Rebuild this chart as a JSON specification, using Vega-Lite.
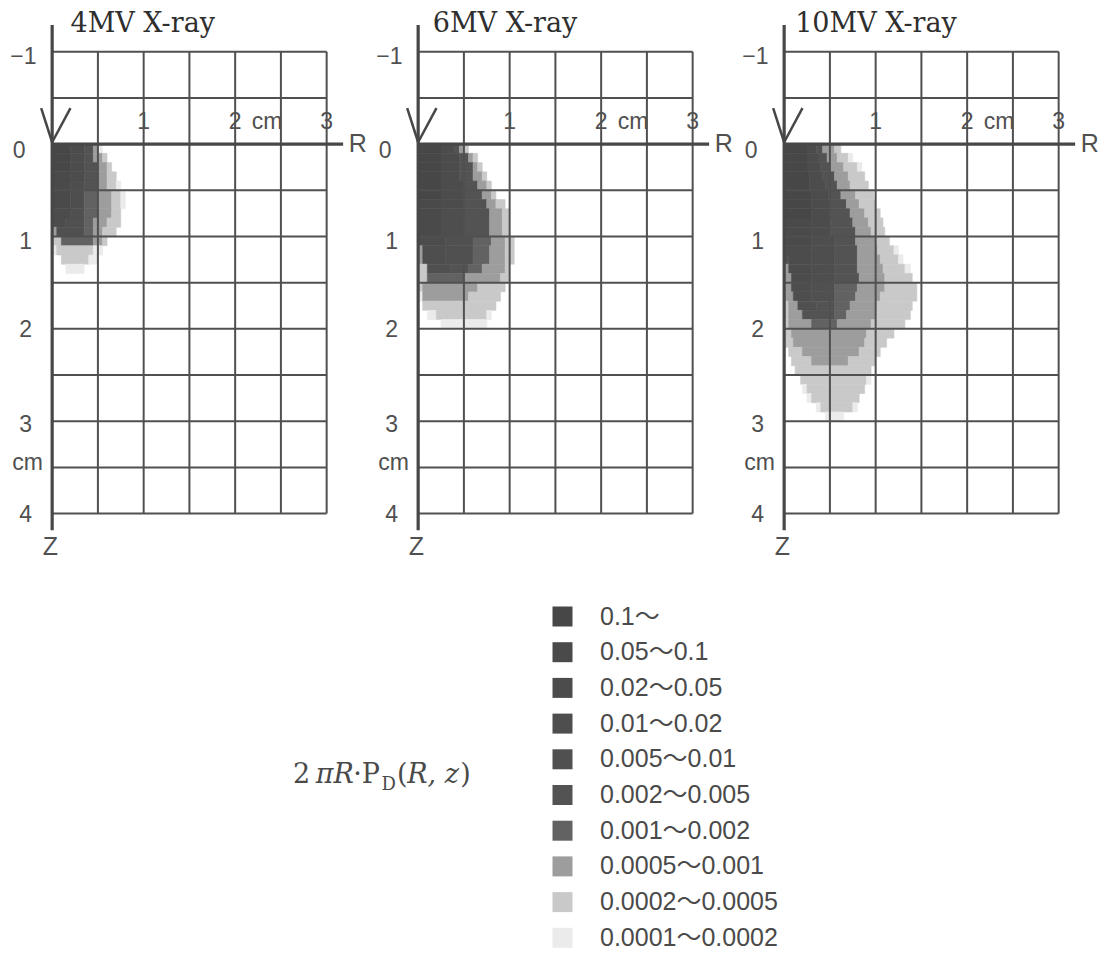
{
  "$schema": "https://vega.github.io/schema/vega-lite/v6.json",
  "background": "white",
  "padding": 0,
  "spacing": 0,
  "bounds": "flush",
  "config": {"view": {"stroke": null}},
  "resolve": {"scale": {"color": "independent", "stroke": "independent"}, "legend": {"color": "independent"}},
  "datasets": {
    "grid": [
      {"x": 0.5, "x2": 0.5, "y": -1, "y2": 4}, {"x": 1, "x2": 1, "y": -1, "y2": 4}, {"x": 1.5, "x2": 1.5, "y": -1, "y2": 4},
      {"x": 2, "x2": 2, "y": -1, "y2": 4}, {"x": 2.5, "x2": 2.5, "y": -1, "y2": 4}, {"x": 3, "x2": 3, "y": -1, "y2": 4},
      {"x": 0, "x2": 3, "y": -1, "y2": -1}, {"x": 0, "x2": 3, "y": -0.5, "y2": -0.5}, {"x": 0, "x2": 3, "y": 0.5, "y2": 0.5},
      {"x": 0, "x2": 3, "y": 1, "y2": 1}, {"x": 0, "x2": 3, "y": 1.5, "y2": 1.5}, {"x": 0, "x2": 3, "y": 2, "y2": 2},
      {"x": 0, "x2": 3, "y": 2.5, "y2": 2.5}, {"x": 0, "x2": 3, "y": 3, "y2": 3}, {"x": 0, "x2": 3, "y": 3.5, "y2": 3.5},
      {"x": 0, "x2": 3, "y": 4, "y2": 4}
    ],
    "axes": [
      {"x": 0, "x2": 0, "y": -1.29, "y2": 4.18},
      {"x": 0, "x2": 3.18, "y": 0, "y2": 0}
    ],
    "arrow": [
      {"x": -0.12, "x2": 0, "y": -0.39, "y2": -0.02},
      {"x": 0.2, "x2": 0, "y": -0.39, "y2": -0.02}
    ],
    "rlab": [
      {"x": 1, "y": -0.16, "t": "1"}, {"x": 2, "y": -0.16, "t": "2"},
      {"x": 2.35, "y": -0.16, "t": "cm"}, {"x": 3, "y": -0.16, "t": "3"}
    ],
    "zlab": [
      {"x": -0.17, "y": -0.94, "t": "−1"}, {"x": -0.29, "y": 0.07, "t": "0"}, {"x": -0.22, "y": 1.06, "t": "1"},
      {"x": -0.22, "y": 2.01, "t": "2"}, {"x": -0.22, "y": 3.04, "t": "3"}, {"x": -0.1, "y": 3.45, "t": "cm"},
      {"x": -0.22, "y": 4.02, "t": "4"}
    ],
    "names": [
      {"x": 3.34, "y": 0, "t": "R"}, {"x": -0.02, "y": 4.36, "t": "Z"}
    ],
    "h4": [
      {"z":0,"z2":0.1,"r":0,"r2":0.2,"v":1},{"z":0,"z2":0.1,"r":0.2,"r2":0.35,"v":3},{"z":0,"z2":0.1,"r":0.35,"r2":0.45,"v":6},{"z":0,"z2":0.1,"r":0.45,"r2":0.5,"v":8},{"z":0,"z2":0.1,"r":0.5,"r2":0.55,"v":10},
      {"z":0.1,"z2":0.2,"r":0,"r2":0.2,"v":1},{"z":0.1,"z2":0.2,"r":0.2,"r2":0.35,"v":3},{"z":0.1,"z2":0.2,"r":0.35,"r2":0.45,"v":6},{"z":0.1,"z2":0.2,"r":0.45,"r2":0.55,"v":8},{"z":0.1,"z2":0.2,"r":0.55,"r2":0.6,"v":9},
      {"z":0.2,"z2":0.3,"r":0,"r2":0.2,"v":1},{"z":0.2,"z2":0.3,"r":0.2,"r2":0.35,"v":3},{"z":0.2,"z2":0.3,"r":0.35,"r2":0.5,"v":6},{"z":0.2,"z2":0.3,"r":0.5,"r2":0.6,"v":8},{"z":0.2,"z2":0.3,"r":0.6,"r2":0.65,"v":9},
      {"z":0.3,"z2":0.4,"r":0,"r2":0.2,"v":2},{"z":0.3,"z2":0.4,"r":0.2,"r2":0.35,"v":3},{"z":0.3,"z2":0.4,"r":0.35,"r2":0.5,"v":6},{"z":0.3,"z2":0.4,"r":0.5,"r2":0.6,"v":8},{"z":0.3,"z2":0.4,"r":0.6,"r2":0.7,"v":9},
      {"z":0.4,"z2":0.5,"r":0,"r2":0.2,"v":2},{"z":0.4,"z2":0.5,"r":0.2,"r2":0.35,"v":4},{"z":0.4,"z2":0.5,"r":0.35,"r2":0.5,"v":6},{"z":0.4,"z2":0.5,"r":0.5,"r2":0.6,"v":8},{"z":0.4,"z2":0.5,"r":0.6,"r2":0.7,"v":9},{"z":0.4,"z2":0.5,"r":0.7,"r2":0.75,"v":10},
      {"z":0.5,"z2":0.7,"r":0,"r2":0.2,"v":2},{"z":0.5,"z2":0.7,"r":0.2,"r2":0.35,"v":4},{"z":0.5,"z2":0.7,"r":0.35,"r2":0.5,"v":7},{"z":0.5,"z2":0.7,"r":0.5,"r2":0.65,"v":8},{"z":0.5,"z2":0.7,"r":0.65,"r2":0.75,"v":9},{"z":0.5,"z2":0.7,"r":0.75,"r2":0.8,"v":10},
      {"z":0.7,"z2":0.8,"r":0,"r2":0.2,"v":3},{"z":0.7,"z2":0.8,"r":0.2,"r2":0.35,"v":5},{"z":0.7,"z2":0.8,"r":0.35,"r2":0.5,"v":7},{"z":0.7,"z2":0.8,"r":0.5,"r2":0.65,"v":8},{"z":0.7,"z2":0.8,"r":0.65,"r2":0.75,"v":9},
      {"z":0.8,"z2":0.9,"r":0,"r2":0.15,"v":3},{"z":0.8,"z2":0.9,"r":0.15,"r2":0.35,"v":5},{"z":0.8,"z2":0.9,"r":0.35,"r2":0.45,"v":7},{"z":0.8,"z2":0.9,"r":0.45,"r2":0.6,"v":8},{"z":0.8,"z2":0.9,"r":0.6,"r2":0.75,"v":9},
      {"z":0.9,"z2":1,"r":0,"r2":0.05,"v":8},{"z":0.9,"z2":1,"r":0.05,"r2":0.35,"v":5},{"z":0.9,"z2":1,"r":0.35,"r2":0.45,"v":7},{"z":0.9,"z2":1,"r":0.45,"r2":0.55,"v":8},{"z":0.9,"z2":1,"r":0.55,"r2":0.7,"v":9},
      {"z":1,"z2":1.1,"r":0,"r2":0.1,"v":9},{"z":1,"z2":1.1,"r":0.1,"r2":0.45,"v":7},{"z":1,"z2":1.1,"r":0.45,"r2":0.55,"v":8},{"z":1,"z2":1.1,"r":0.55,"r2":0.6,"v":9},
      {"z":1.1,"z2":1.2,"r":0,"r2":0.05,"v":10},{"z":1.1,"z2":1.2,"r":0.05,"r2":0.45,"v":9},{"z":1.1,"z2":1.2,"r":0.45,"r2":0.55,"v":10},
      {"z":1.2,"z2":1.3,"r":0.1,"r2":0.4,"v":9},{"z":1.2,"z2":1.3,"r":0.4,"r2":0.5,"v":10},
      {"z":1.3,"z2":1.4,"r":0.15,"r2":0.35,"v":10}
    ],
    "h6": [
      {"z":0,"z2":0.1,"r":0,"r2":0.25,"v":1},{"z":0,"z2":0.1,"r":0.25,"r2":0.4,"v":3},{"z":0,"z2":0.1,"r":0.4,"r2":0.45,"v":6},{"z":0,"z2":0.1,"r":0.45,"r2":0.5,"v":8},{"z":0,"z2":0.1,"r":0.5,"r2":0.55,"v":9},
      {"z":0.1,"z2":0.2,"r":0,"r2":0.25,"v":1},{"z":0.1,"z2":0.2,"r":0.25,"r2":0.45,"v":3},{"z":0.1,"z2":0.2,"r":0.45,"r2":0.55,"v":6},{"z":0.1,"z2":0.2,"r":0.55,"r2":0.6,"v":8},{"z":0.1,"z2":0.2,"r":0.6,"r2":0.65,"v":9},
      {"z":0.2,"z2":0.3,"r":0,"r2":0.25,"v":1},{"z":0.2,"z2":0.3,"r":0.25,"r2":0.45,"v":3},{"z":0.2,"z2":0.3,"r":0.45,"r2":0.6,"v":6},{"z":0.2,"z2":0.3,"r":0.6,"r2":0.65,"v":8},{"z":0.2,"z2":0.3,"r":0.65,"r2":0.7,"v":9},
      {"z":0.3,"z2":0.4,"r":0,"r2":0.25,"v":1},{"z":0.3,"z2":0.4,"r":0.25,"r2":0.45,"v":3},{"z":0.3,"z2":0.4,"r":0.45,"r2":0.6,"v":6},{"z":0.3,"z2":0.4,"r":0.6,"r2":0.7,"v":8},{"z":0.3,"z2":0.4,"r":0.7,"r2":0.75,"v":9},
      {"z":0.4,"z2":0.5,"r":0,"r2":0.25,"v":1},{"z":0.4,"z2":0.5,"r":0.25,"r2":0.5,"v":3},{"z":0.4,"z2":0.5,"r":0.5,"r2":0.65,"v":6},{"z":0.4,"z2":0.5,"r":0.65,"r2":0.75,"v":8},{"z":0.4,"z2":0.5,"r":0.75,"r2":0.8,"v":9},
      {"z":0.5,"z2":0.6,"r":0,"r2":0.25,"v":1},{"z":0.5,"z2":0.6,"r":0.25,"r2":0.5,"v":3},{"z":0.5,"z2":0.6,"r":0.5,"r2":0.7,"v":6},{"z":0.5,"z2":0.6,"r":0.7,"r2":0.8,"v":8},{"z":0.5,"z2":0.6,"r":0.8,"r2":0.85,"v":9},
      {"z":0.6,"z2":0.7,"r":0,"r2":0.25,"v":2},{"z":0.6,"z2":0.7,"r":0.25,"r2":0.5,"v":3},{"z":0.6,"z2":0.7,"r":0.5,"r2":0.75,"v":6},{"z":0.6,"z2":0.7,"r":0.75,"r2":0.85,"v":8},{"z":0.6,"z2":0.7,"r":0.85,"r2":0.95,"v":9},
      {"z":0.7,"z2":1,"r":0,"r2":0.25,"v":2},{"z":0.7,"z2":1,"r":0.25,"r2":0.5,"v":4},{"z":0.7,"z2":1,"r":0.5,"r2":0.78,"v":6},{"z":0.7,"z2":1,"r":0.78,"r2":0.92,"v":8},{"z":0.7,"z2":1,"r":0.92,"r2":1,"v":9},
      {"z":1,"z2":1.1,"r":0,"r2":0.3,"v":3},{"z":1,"z2":1.1,"r":0.3,"r2":0.6,"v":5},{"z":1,"z2":1.1,"r":0.6,"r2":0.8,"v":7},{"z":1,"z2":1.1,"r":0.8,"r2":0.95,"v":8},{"z":1,"z2":1.1,"r":0.95,"r2":1.05,"v":9},
      {"z":1.1,"z2":1.3,"r":0,"r2":0.05,"v":8},{"z":1.1,"z2":1.3,"r":0.05,"r2":0.3,"v":4},{"z":1.1,"z2":1.3,"r":0.3,"r2":0.6,"v":5},{"z":1.1,"z2":1.3,"r":0.6,"r2":0.78,"v":7},{"z":1.1,"z2":1.3,"r":0.78,"r2":0.95,"v":8},{"z":1.1,"z2":1.3,"r":0.95,"r2":1.05,"v":9},
      {"z":1.3,"z2":1.4,"r":0,"r2":0.1,"v":9},{"z":1.3,"z2":1.4,"r":0.1,"r2":0.35,"v":5},{"z":1.3,"z2":1.4,"r":0.35,"r2":0.55,"v":6},{"z":1.3,"z2":1.4,"r":0.55,"r2":0.7,"v":7},{"z":1.3,"z2":1.4,"r":0.7,"r2":0.95,"v":8},{"z":1.3,"z2":1.4,"r":0.95,"r2":1,"v":9},
      {"z":1.4,"z2":1.5,"r":0,"r2":0.1,"v":9},{"z":1.4,"z2":1.5,"r":0.1,"r2":0.5,"v":7},{"z":1.4,"z2":1.5,"r":0.5,"r2":0.9,"v":8},{"z":1.4,"z2":1.5,"r":0.9,"r2":1,"v":9},
      {"z":1.5,"z2":1.6,"r":0,"r2":0.05,"v":9},{"z":1.5,"z2":1.6,"r":0.05,"r2":0.65,"v":8},{"z":1.5,"z2":1.6,"r":0.65,"r2":0.95,"v":9},
      {"z":1.6,"z2":1.7,"r":0,"r2":0.05,"v":10},{"z":1.6,"z2":1.7,"r":0.05,"r2":0.55,"v":8},{"z":1.6,"z2":1.7,"r":0.55,"r2":0.9,"v":9},
      {"z":1.7,"z2":1.8,"r":0.05,"r2":0.85,"v":9},
      {"z":1.8,"z2":1.9,"r":0.1,"r2":0.2,"v":10},{"z":1.8,"z2":1.9,"r":0.2,"r2":0.75,"v":9},{"z":1.8,"z2":1.9,"r":0.75,"r2":0.8,"v":10},
      {"z":1.9,"z2":2,"r":0.25,"r2":0.75,"v":10}
    ],
    "h10": [
      {"z":0,"z2":0.1,"r":0,"r2":0.25,"v":1},{"z":0,"z2":0.1,"r":0.25,"r2":0.35,"v":3},{"z":0,"z2":0.1,"r":0.35,"r2":0.42,"v":6},{"z":0,"z2":0.1,"r":0.42,"r2":0.55,"v":8},{"z":0,"z2":0.1,"r":0.55,"r2":0.62,"v":9},
      {"z":0.1,"z2":0.2,"r":0,"r2":0.25,"v":1},{"z":0.1,"z2":0.2,"r":0.25,"r2":0.38,"v":3},{"z":0.1,"z2":0.2,"r":0.38,"r2":0.47,"v":6},{"z":0.1,"z2":0.2,"r":0.47,"r2":0.58,"v":8},{"z":0.1,"z2":0.2,"r":0.58,"r2":0.7,"v":9},{"z":0.1,"z2":0.2,"r":0.7,"r2":0.75,"v":10},
      {"z":0.2,"z2":0.3,"r":0,"r2":0.25,"v":1},{"z":0.2,"z2":0.3,"r":0.25,"r2":0.4,"v":3},{"z":0.2,"z2":0.3,"r":0.4,"r2":0.5,"v":6},{"z":0.2,"z2":0.3,"r":0.5,"r2":0.65,"v":8},{"z":0.2,"z2":0.3,"r":0.65,"r2":0.8,"v":9},{"z":0.2,"z2":0.3,"r":0.8,"r2":0.85,"v":10},
      {"z":0.3,"z2":0.4,"r":0,"r2":0.28,"v":1},{"z":0.3,"z2":0.4,"r":0.28,"r2":0.42,"v":3},{"z":0.3,"z2":0.4,"r":0.42,"r2":0.55,"v":6},{"z":0.3,"z2":0.4,"r":0.55,"r2":0.7,"v":8},{"z":0.3,"z2":0.4,"r":0.7,"r2":0.88,"v":9},
      {"z":0.4,"z2":0.5,"r":0,"r2":0.28,"v":1},{"z":0.4,"z2":0.5,"r":0.28,"r2":0.45,"v":3},{"z":0.4,"z2":0.5,"r":0.45,"r2":0.58,"v":6},{"z":0.4,"z2":0.5,"r":0.58,"r2":0.72,"v":8},{"z":0.4,"z2":0.5,"r":0.72,"r2":0.92,"v":9},
      {"z":0.5,"z2":0.6,"r":0,"r2":0.3,"v":1},{"z":0.5,"z2":0.6,"r":0.3,"r2":0.48,"v":3},{"z":0.5,"z2":0.6,"r":0.48,"r2":0.62,"v":6},{"z":0.5,"z2":0.6,"r":0.62,"r2":0.78,"v":8},{"z":0.5,"z2":0.6,"r":0.78,"r2":0.98,"v":9},
      {"z":0.6,"z2":0.7,"r":0,"r2":0.3,"v":1},{"z":0.6,"z2":0.7,"r":0.3,"r2":0.5,"v":3},{"z":0.6,"z2":0.7,"r":0.5,"r2":0.68,"v":6},{"z":0.6,"z2":0.7,"r":0.68,"r2":0.82,"v":8},{"z":0.6,"z2":0.7,"r":0.82,"r2":1,"v":9},
      {"z":0.7,"z2":0.8,"r":0,"r2":0.3,"v":1},{"z":0.7,"z2":0.8,"r":0.3,"r2":0.5,"v":3},{"z":0.7,"z2":0.8,"r":0.5,"r2":0.72,"v":6},{"z":0.7,"z2":0.8,"r":0.72,"r2":0.88,"v":8},{"z":0.7,"z2":0.8,"r":0.88,"r2":1.05,"v":9},
      {"z":0.8,"z2":0.9,"r":0,"r2":0.3,"v":2},{"z":0.8,"z2":0.9,"r":0.3,"r2":0.52,"v":3},{"z":0.8,"z2":0.9,"r":0.52,"r2":0.75,"v":6},{"z":0.8,"z2":0.9,"r":0.75,"r2":0.92,"v":8},{"z":0.8,"z2":0.9,"r":0.92,"r2":1.08,"v":9},
      {"z":0.9,"z2":1,"r":0,"r2":0.3,"v":2},{"z":0.9,"z2":1,"r":0.3,"r2":0.52,"v":3},{"z":0.9,"z2":1,"r":0.52,"r2":0.78,"v":6},{"z":0.9,"z2":1,"r":0.78,"r2":0.95,"v":8},{"z":0.9,"z2":1,"r":0.95,"r2":1.1,"v":9},
      {"z":1,"z2":1.1,"r":0,"r2":0.3,"v":2},{"z":1,"z2":1.1,"r":0.3,"r2":0.55,"v":4},{"z":1,"z2":1.1,"r":0.55,"r2":0.78,"v":6},{"z":1,"z2":1.1,"r":0.78,"r2":1,"v":8},{"z":1,"z2":1.1,"r":1,"r2":1.15,"v":9},
      {"z":1.1,"z2":1.2,"r":0,"r2":0.3,"v":3},{"z":1.1,"z2":1.2,"r":0.3,"r2":0.55,"v":4},{"z":1.1,"z2":1.2,"r":0.55,"r2":0.8,"v":6},{"z":1.1,"z2":1.2,"r":0.8,"r2":1.02,"v":8},{"z":1.1,"z2":1.2,"r":1.02,"r2":1.2,"v":9},{"z":1.1,"z2":1.2,"r":1.2,"r2":1.25,"v":10},
      {"z":1.2,"z2":1.3,"r":0,"r2":0.05,"v":5},{"z":1.2,"z2":1.3,"r":0.05,"r2":0.3,"v":3},{"z":1.2,"z2":1.3,"r":0.3,"r2":0.55,"v":4},{"z":1.2,"z2":1.3,"r":0.55,"r2":0.8,"v":6},{"z":1.2,"z2":1.3,"r":0.8,"r2":1.05,"v":8},{"z":1.2,"z2":1.3,"r":1.05,"r2":1.25,"v":9},{"z":1.2,"z2":1.3,"r":1.25,"r2":1.3,"v":10},
      {"z":1.3,"z2":1.4,"r":0,"r2":0.05,"v":8},{"z":1.3,"z2":1.4,"r":0.05,"r2":0.3,"v":3},{"z":1.3,"z2":1.4,"r":0.3,"r2":0.55,"v":4},{"z":1.3,"z2":1.4,"r":0.55,"r2":0.8,"v":6},{"z":1.3,"z2":1.4,"r":0.8,"r2":1.08,"v":8},{"z":1.3,"z2":1.4,"r":1.08,"r2":1.32,"v":9},{"z":1.3,"z2":1.4,"r":1.32,"r2":1.38,"v":10},
      {"z":1.4,"z2":1.5,"r":0,"r2":0.08,"v":8},{"z":1.4,"z2":1.5,"r":0.08,"r2":0.3,"v":3},{"z":1.4,"z2":1.5,"r":0.3,"r2":0.55,"v":4},{"z":1.4,"z2":1.5,"r":0.55,"r2":0.82,"v":6},{"z":1.4,"z2":1.5,"r":0.82,"r2":1.1,"v":8},{"z":1.4,"z2":1.5,"r":1.1,"r2":1.4,"v":9},
      {"z":1.5,"z2":1.6,"r":0,"r2":0.08,"v":8},{"z":1.5,"z2":1.6,"r":0.08,"r2":0.3,"v":4},{"z":1.5,"z2":1.6,"r":0.3,"r2":0.55,"v":5},{"z":1.5,"z2":1.6,"r":0.55,"r2":0.8,"v":7},{"z":1.5,"z2":1.6,"r":0.8,"r2":1.1,"v":8},{"z":1.5,"z2":1.6,"r":1.1,"r2":1.45,"v":9},
      {"z":1.6,"z2":1.7,"r":0,"r2":0.1,"v":8},{"z":1.6,"z2":1.7,"r":0.1,"r2":0.3,"v":4},{"z":1.6,"z2":1.7,"r":0.3,"r2":0.55,"v":5},{"z":1.6,"z2":1.7,"r":0.55,"r2":0.78,"v":7},{"z":1.6,"z2":1.7,"r":0.78,"r2":1.05,"v":8},{"z":1.6,"z2":1.7,"r":1.05,"r2":1.45,"v":9},
      {"z":1.7,"z2":1.8,"r":0,"r2":0.05,"v":9},{"z":1.7,"z2":1.8,"r":0.05,"r2":0.15,"v":8},{"z":1.7,"z2":1.8,"r":0.15,"r2":0.35,"v":5},{"z":1.7,"z2":1.8,"r":0.35,"r2":0.55,"v":6},{"z":1.7,"z2":1.8,"r":0.55,"r2":0.72,"v":7},{"z":1.7,"z2":1.8,"r":0.72,"r2":1,"v":8},{"z":1.7,"z2":1.8,"r":1,"r2":1.4,"v":9},
      {"z":1.8,"z2":1.9,"r":0,"r2":0.05,"v":9},{"z":1.8,"z2":1.9,"r":0.05,"r2":0.2,"v":8},{"z":1.8,"z2":1.9,"r":0.2,"r2":0.55,"v":6},{"z":1.8,"z2":1.9,"r":0.55,"r2":0.68,"v":7},{"z":1.8,"z2":1.9,"r":0.68,"r2":1,"v":8},{"z":1.8,"z2":1.9,"r":1,"r2":1.38,"v":9},
      {"z":1.9,"z2":2,"r":0,"r2":0.05,"v":9},{"z":1.9,"z2":2,"r":0.05,"r2":0.3,"v":8},{"z":1.9,"z2":2,"r":0.3,"r2":0.58,"v":7},{"z":1.9,"z2":2,"r":0.58,"r2":0.95,"v":8},{"z":1.9,"z2":2,"r":0.95,"r2":1.32,"v":9},
      {"z":2,"z2":2.1,"r":0,"r2":0.08,"v":9},{"z":2,"z2":2.1,"r":0.08,"r2":0.9,"v":8},{"z":2,"z2":2.1,"r":0.9,"r2":1.2,"v":9},
      {"z":2.1,"z2":2.2,"r":0,"r2":0.1,"v":9},{"z":2.1,"z2":2.2,"r":0.1,"r2":0.88,"v":8},{"z":2.1,"z2":2.2,"r":0.88,"r2":1.12,"v":9},
      {"z":2.2,"z2":2.3,"r":0.05,"r2":0.2,"v":9},{"z":2.2,"z2":2.3,"r":0.2,"r2":0.82,"v":8},{"z":2.2,"z2":2.3,"r":0.82,"r2":1.05,"v":9},
      {"z":2.3,"z2":2.4,"r":0.08,"r2":0.3,"v":9},{"z":2.3,"z2":2.4,"r":0.3,"r2":0.7,"v":8},{"z":2.3,"z2":2.4,"r":0.7,"r2":1,"v":9},
      {"z":2.4,"z2":2.5,"r":0.12,"r2":0.95,"v":9},
      {"z":2.5,"z2":2.6,"r":0.18,"r2":0.9,"v":9},{"z":2.5,"z2":2.6,"r":0.9,"r2":0.95,"v":10},
      {"z":2.6,"z2":2.7,"r":0.2,"r2":0.25,"v":10},{"z":2.6,"z2":2.7,"r":0.25,"r2":0.88,"v":9},
      {"z":2.7,"z2":2.8,"r":0.25,"r2":0.3,"v":10},{"z":2.7,"z2":2.8,"r":0.3,"r2":0.82,"v":9},
      {"z":2.8,"z2":2.9,"r":0.35,"r2":0.4,"v":10},{"z":2.8,"z2":2.9,"r":0.4,"r2":0.75,"v":9},{"z":2.8,"z2":2.9,"r":0.75,"r2":0.8,"v":10},
      {"z":2.9,"z2":3,"r":0.45,"r2":0.65,"v":10}
    ]
  },
  "hconcat": [
    {
      "width": 366,
      "height": 569,
      "layer": [
        {
          "data": {"name": "h4"},
          "mark": {"type": "rect", "strokeWidth": 0.6},
          "encoding": {
            "x": {"field": "r", "type": "quantitative", "scale": {"domain": [-0.57, 3.43], "nice": false, "zero": false}, "axis": null},
            "x2": {"field": "r2"},
            "y": {"field": "z", "type": "quantitative", "scale": {"domain": [-1.56, 4.6], "reverse": true, "nice": false, "zero": false}, "axis": null},
            "y2": {"field": "z2"},
            "color": {
              "field": "v", "type": "ordinal",
              "scale": {"domain": [1, 2, 3, 4, 5, 6, 7, 8, 9, 10], "range": ["#474747", "#4a4a4a", "#4c4c4c", "#4e4e4e", "#505050", "#535353", "#626262", "#9d9d9d", "#c9c9c9", "#ebebeb"]},
              "legend": {
                "orient": "none", "legendX": 550, "legendY": 604, "title": null, "padding": 0,
                "symbolType": "square", "symbolSize": 400, "symbolStrokeWidth": 0,
                "labelFont": "Liberation Sans, Noto Sans CJK JP", "labelFontSize": 25, "labelColor": "#4a4a4a",
                "labelOffset": 25, "labelLimit": 300, "rowPadding": 9.7,
                "labelExpr": "['0.1〜','0.05〜0.1','0.02〜0.05','0.01〜0.02','0.005〜0.01','0.002〜0.005','0.001〜0.002','0.0005〜0.001','0.0002〜0.0005','0.0001〜0.0002'][datum.value-1]"
              }
            },
            "stroke": {"field": "v", "type": "ordinal", "scale": {"domain": [1, 2, 3, 4, 5, 6, 7, 8, 9, 10], "range": ["#474747", "#4a4a4a", "#4c4c4c", "#4e4e4e", "#505050", "#535353", "#626262", "#9d9d9d", "#c9c9c9", "#ebebeb"]}, "legend": null}
          }
        },
        {
          "data": {"name": "grid"},
          "mark": {"type": "rule", "color": "#505050", "strokeWidth": 2},
          "encoding": {
            "x": {"field": "x", "type": "quantitative", "scale": {"domain": [-0.57, 3.43], "nice": false, "zero": false}, "axis": null},
            "x2": {"field": "x2"},
            "y": {"field": "y", "type": "quantitative", "scale": {"domain": [-1.56, 4.6], "reverse": true, "nice": false, "zero": false}, "axis": null},
            "y2": {"field": "y2"}
          }
        },
        {
          "data": {"name": "axes"},
          "mark": {"type": "rule", "color": "#474747", "strokeWidth": 3.2},
          "encoding": {
            "x": {"field": "x", "type": "quantitative", "scale": {"domain": [-0.57, 3.43], "nice": false, "zero": false}, "axis": null},
            "x2": {"field": "x2"},
            "y": {"field": "y", "type": "quantitative", "scale": {"domain": [-1.56, 4.6], "reverse": true, "nice": false, "zero": false}, "axis": null},
            "y2": {"field": "y2"}
          }
        },
        {
          "data": {"name": "arrow"},
          "mark": {"type": "rule", "color": "#474747", "strokeWidth": 2.5},
          "encoding": {
            "x": {"field": "x", "type": "quantitative", "scale": {"domain": [-0.57, 3.43], "nice": false, "zero": false}, "axis": null},
            "x2": {"field": "x2"},
            "y": {"field": "y", "type": "quantitative", "scale": {"domain": [-1.56, 4.6], "reverse": true, "nice": false, "zero": false}, "axis": null},
            "y2": {"field": "y2"}
          }
        },
        {
          "data": {"name": "rlab"},
          "mark": {"type": "text", "font": "Liberation Sans", "fontSize": 23, "color": "#505050", "align": "center", "baseline": "alphabetic"},
          "encoding": {
            "x": {"field": "x", "type": "quantitative", "scale": {"domain": [-0.57, 3.43], "nice": false, "zero": false}, "axis": null},
            "y": {"field": "y", "type": "quantitative", "scale": {"domain": [-1.56, 4.6], "reverse": true, "nice": false, "zero": false}, "axis": null},
            "text": {"field": "t"}
          }
        },
        {
          "data": {"name": "zlab"},
          "mark": {"type": "text", "font": "Liberation Sans", "fontSize": 23, "color": "#505050", "align": "right", "baseline": "middle"},
          "encoding": {
            "x": {"field": "x", "type": "quantitative", "scale": {"domain": [-0.57, 3.43], "nice": false, "zero": false}, "axis": null},
            "y": {"field": "y", "type": "quantitative", "scale": {"domain": [-1.56, 4.6], "reverse": true, "nice": false, "zero": false}, "axis": null},
            "text": {"field": "t"}
          }
        },
        {
          "data": {"name": "names"},
          "mark": {"type": "text", "font": "Liberation Sans", "fontSize": 25, "color": "#505050", "align": "center", "baseline": "middle"},
          "encoding": {
            "x": {"field": "x", "type": "quantitative", "scale": {"domain": [-0.57, 3.43], "nice": false, "zero": false}, "axis": null},
            "y": {"field": "y", "type": "quantitative", "scale": {"domain": [-1.56, 4.6], "reverse": true, "nice": false, "zero": false}, "axis": null},
            "text": {"field": "t"}
          }
        },
        {
          "data": {"values": [{"t": "4MV X-ray", "x": 0.2, "y": -1.21}]},
          "mark": {"type": "text", "font": "DejaVu Serif", "fontSize": 27, "color": "#2e2e2e", "align": "left", "baseline": "alphabetic"},
          "encoding": {
            "x": {"field": "x", "type": "quantitative", "scale": {"domain": [-0.57, 3.43], "nice": false, "zero": false}, "axis": null},
            "y": {"field": "y", "type": "quantitative", "scale": {"domain": [-1.56, 4.6], "reverse": true, "nice": false, "zero": false}, "axis": null},
            "text": {"field": "t"}
          }
        },
        {
          "data": {"values": [{"t": "2", "x": 2.632, "y": 6.917}, {"t": "·P", "x": 3.29, "y": 6.917}, {"t": "(", "x": 3.77, "y": 6.917}, {"t": ")", "x": 4.46, "y": 6.917}]},
          "mark": {"type": "text", "font": "DejaVu Serif", "fontSize": 27, "color": "#4a4a4a", "align": "left", "baseline": "alphabetic"},
          "encoding": {
            "x": {"field": "x", "type": "quantitative", "scale": {"domain": [-0.57, 3.43], "nice": false, "zero": false}, "axis": null},
            "y": {"field": "y", "type": "quantitative", "scale": {"domain": [-1.56, 4.6], "reverse": true, "nice": false, "zero": false}, "axis": null},
            "text": {"field": "t"}
          }
        },
        {
          "data": {"values": [{"t": "πR", "x": 2.88, "y": 6.917}, {"t": "R, z", "x": 3.88, "y": 6.917}]},
          "mark": {"type": "text", "font": "DejaVu Serif", "fontSize": 27, "fontStyle": "italic", "color": "#4a4a4a", "align": "left", "baseline": "alphabetic"},
          "encoding": {
            "x": {"field": "x", "type": "quantitative", "scale": {"domain": [-0.57, 3.43], "nice": false, "zero": false}, "axis": null},
            "y": {"field": "y", "type": "quantitative", "scale": {"domain": [-1.56, 4.6], "reverse": true, "nice": false, "zero": false}, "axis": null},
            "text": {"field": "t"}
          }
        },
        {
          "data": {"values": [{"t": "D", "x": 3.6, "y": 6.99}]},
          "mark": {"type": "text", "font": "DejaVu Serif", "fontSize": 18, "color": "#4a4a4a", "align": "left", "baseline": "alphabetic"},
          "encoding": {
            "x": {"field": "x", "type": "quantitative", "scale": {"domain": [-0.57, 3.43], "nice": false, "zero": false}, "axis": null},
            "y": {"field": "y", "type": "quantitative", "scale": {"domain": [-1.56, 4.6], "reverse": true, "nice": false, "zero": false}, "axis": null},
            "text": {"field": "t"}
          }
        }
      ]
    },
    {
      "width": 366,
      "height": 569,
      "layer": [
        {
          "data": {"name": "h6"},
          "mark": {"type": "rect", "strokeWidth": 0.6},
          "encoding": {
            "x": {"field": "r", "type": "quantitative", "scale": {"domain": [-0.57, 3.43], "nice": false, "zero": false}, "axis": null},
            "x2": {"field": "r2"},
            "y": {"field": "z", "type": "quantitative", "scale": {"domain": [-1.56, 4.6], "reverse": true, "nice": false, "zero": false}, "axis": null},
            "y2": {"field": "z2"},
            "color": {"field": "v", "type": "ordinal", "scale": {"domain": [1, 2, 3, 4, 5, 6, 7, 8, 9, 10], "range": ["#474747", "#4a4a4a", "#4c4c4c", "#4e4e4e", "#505050", "#535353", "#626262", "#9d9d9d", "#c9c9c9", "#ebebeb"]}, "legend": null},
            "stroke": {"field": "v", "type": "ordinal", "scale": {"domain": [1, 2, 3, 4, 5, 6, 7, 8, 9, 10], "range": ["#474747", "#4a4a4a", "#4c4c4c", "#4e4e4e", "#505050", "#535353", "#626262", "#9d9d9d", "#c9c9c9", "#ebebeb"]}, "legend": null}
          }
        },
        {
          "data": {"name": "grid"},
          "mark": {"type": "rule", "color": "#505050", "strokeWidth": 2},
          "encoding": {
            "x": {"field": "x", "type": "quantitative", "scale": {"domain": [-0.57, 3.43], "nice": false, "zero": false}, "axis": null},
            "x2": {"field": "x2"},
            "y": {"field": "y", "type": "quantitative", "scale": {"domain": [-1.56, 4.6], "reverse": true, "nice": false, "zero": false}, "axis": null},
            "y2": {"field": "y2"}
          }
        },
        {
          "data": {"name": "axes"},
          "mark": {"type": "rule", "color": "#474747", "strokeWidth": 3.2},
          "encoding": {
            "x": {"field": "x", "type": "quantitative", "scale": {"domain": [-0.57, 3.43], "nice": false, "zero": false}, "axis": null},
            "x2": {"field": "x2"},
            "y": {"field": "y", "type": "quantitative", "scale": {"domain": [-1.56, 4.6], "reverse": true, "nice": false, "zero": false}, "axis": null},
            "y2": {"field": "y2"}
          }
        },
        {
          "data": {"name": "arrow"},
          "mark": {"type": "rule", "color": "#474747", "strokeWidth": 2.5},
          "encoding": {
            "x": {"field": "x", "type": "quantitative", "scale": {"domain": [-0.57, 3.43], "nice": false, "zero": false}, "axis": null},
            "x2": {"field": "x2"},
            "y": {"field": "y", "type": "quantitative", "scale": {"domain": [-1.56, 4.6], "reverse": true, "nice": false, "zero": false}, "axis": null},
            "y2": {"field": "y2"}
          }
        },
        {
          "data": {"name": "rlab"},
          "mark": {"type": "text", "font": "Liberation Sans", "fontSize": 23, "color": "#505050", "align": "center", "baseline": "alphabetic"},
          "encoding": {
            "x": {"field": "x", "type": "quantitative", "scale": {"domain": [-0.57, 3.43], "nice": false, "zero": false}, "axis": null},
            "y": {"field": "y", "type": "quantitative", "scale": {"domain": [-1.56, 4.6], "reverse": true, "nice": false, "zero": false}, "axis": null},
            "text": {"field": "t"}
          }
        },
        {
          "data": {"name": "zlab"},
          "mark": {"type": "text", "font": "Liberation Sans", "fontSize": 23, "color": "#505050", "align": "right", "baseline": "middle"},
          "encoding": {
            "x": {"field": "x", "type": "quantitative", "scale": {"domain": [-0.57, 3.43], "nice": false, "zero": false}, "axis": null},
            "y": {"field": "y", "type": "quantitative", "scale": {"domain": [-1.56, 4.6], "reverse": true, "nice": false, "zero": false}, "axis": null},
            "text": {"field": "t"}
          }
        },
        {
          "data": {"name": "names"},
          "mark": {"type": "text", "font": "Liberation Sans", "fontSize": 25, "color": "#505050", "align": "center", "baseline": "middle"},
          "encoding": {
            "x": {"field": "x", "type": "quantitative", "scale": {"domain": [-0.57, 3.43], "nice": false, "zero": false}, "axis": null},
            "y": {"field": "y", "type": "quantitative", "scale": {"domain": [-1.56, 4.6], "reverse": true, "nice": false, "zero": false}, "axis": null},
            "text": {"field": "t"}
          }
        },
        {
          "data": {"values": [{"t": "6MV X-ray", "x": 0.16, "y": -1.21}]},
          "mark": {"type": "text", "font": "DejaVu Serif", "fontSize": 27, "color": "#2e2e2e", "align": "left", "baseline": "alphabetic"},
          "encoding": {
            "x": {"field": "x", "type": "quantitative", "scale": {"domain": [-0.57, 3.43], "nice": false, "zero": false}, "axis": null},
            "y": {"field": "y", "type": "quantitative", "scale": {"domain": [-1.56, 4.6], "reverse": true, "nice": false, "zero": false}, "axis": null},
            "text": {"field": "t"}
          }
        }
      ]
    },
    {
      "width": 366,
      "height": 569,
      "layer": [
        {
          "data": {"name": "h10"},
          "mark": {"type": "rect", "strokeWidth": 0.6},
          "encoding": {
            "x": {"field": "r", "type": "quantitative", "scale": {"domain": [-0.57, 3.43], "nice": false, "zero": false}, "axis": null},
            "x2": {"field": "r2"},
            "y": {"field": "z", "type": "quantitative", "scale": {"domain": [-1.56, 4.6], "reverse": true, "nice": false, "zero": false}, "axis": null},
            "y2": {"field": "z2"},
            "color": {"field": "v", "type": "ordinal", "scale": {"domain": [1, 2, 3, 4, 5, 6, 7, 8, 9, 10], "range": ["#474747", "#4a4a4a", "#4c4c4c", "#4e4e4e", "#505050", "#535353", "#626262", "#9d9d9d", "#c9c9c9", "#ebebeb"]}, "legend": null},
            "stroke": {"field": "v", "type": "ordinal", "scale": {"domain": [1, 2, 3, 4, 5, 6, 7, 8, 9, 10], "range": ["#474747", "#4a4a4a", "#4c4c4c", "#4e4e4e", "#505050", "#535353", "#626262", "#9d9d9d", "#c9c9c9", "#ebebeb"]}, "legend": null}
          }
        },
        {
          "data": {"name": "grid"},
          "mark": {"type": "rule", "color": "#505050", "strokeWidth": 2},
          "encoding": {
            "x": {"field": "x", "type": "quantitative", "scale": {"domain": [-0.57, 3.43], "nice": false, "zero": false}, "axis": null},
            "x2": {"field": "x2"},
            "y": {"field": "y", "type": "quantitative", "scale": {"domain": [-1.56, 4.6], "reverse": true, "nice": false, "zero": false}, "axis": null},
            "y2": {"field": "y2"}
          }
        },
        {
          "data": {"name": "axes"},
          "mark": {"type": "rule", "color": "#474747", "strokeWidth": 3.2},
          "encoding": {
            "x": {"field": "x", "type": "quantitative", "scale": {"domain": [-0.57, 3.43], "nice": false, "zero": false}, "axis": null},
            "x2": {"field": "x2"},
            "y": {"field": "y", "type": "quantitative", "scale": {"domain": [-1.56, 4.6], "reverse": true, "nice": false, "zero": false}, "axis": null},
            "y2": {"field": "y2"}
          }
        },
        {
          "data": {"name": "arrow"},
          "mark": {"type": "rule", "color": "#474747", "strokeWidth": 2.5},
          "encoding": {
            "x": {"field": "x", "type": "quantitative", "scale": {"domain": [-0.57, 3.43], "nice": false, "zero": false}, "axis": null},
            "x2": {"field": "x2"},
            "y": {"field": "y", "type": "quantitative", "scale": {"domain": [-1.56, 4.6], "reverse": true, "nice": false, "zero": false}, "axis": null},
            "y2": {"field": "y2"}
          }
        },
        {
          "data": {"name": "rlab"},
          "mark": {"type": "text", "font": "Liberation Sans", "fontSize": 23, "color": "#505050", "align": "center", "baseline": "alphabetic"},
          "encoding": {
            "x": {"field": "x", "type": "quantitative", "scale": {"domain": [-0.57, 3.43], "nice": false, "zero": false}, "axis": null},
            "y": {"field": "y", "type": "quantitative", "scale": {"domain": [-1.56, 4.6], "reverse": true, "nice": false, "zero": false}, "axis": null},
            "text": {"field": "t"}
          }
        },
        {
          "data": {"name": "zlab"},
          "mark": {"type": "text", "font": "Liberation Sans", "fontSize": 23, "color": "#505050", "align": "right", "baseline": "middle"},
          "encoding": {
            "x": {"field": "x", "type": "quantitative", "scale": {"domain": [-0.57, 3.43], "nice": false, "zero": false}, "axis": null},
            "y": {"field": "y", "type": "quantitative", "scale": {"domain": [-1.56, 4.6], "reverse": true, "nice": false, "zero": false}, "axis": null},
            "text": {"field": "t"}
          }
        },
        {
          "data": {"name": "names"},
          "mark": {"type": "text", "font": "Liberation Sans", "fontSize": 25, "color": "#505050", "align": "center", "baseline": "middle"},
          "encoding": {
            "x": {"field": "x", "type": "quantitative", "scale": {"domain": [-0.57, 3.43], "nice": false, "zero": false}, "axis": null},
            "y": {"field": "y", "type": "quantitative", "scale": {"domain": [-1.56, 4.6], "reverse": true, "nice": false, "zero": false}, "axis": null},
            "text": {"field": "t"}
          }
        },
        {
          "data": {"values": [{"t": "10MV X-ray", "x": 0.12, "y": -1.21}]},
          "mark": {"type": "text", "font": "DejaVu Serif", "fontSize": 27, "color": "#2e2e2e", "align": "left", "baseline": "alphabetic"},
          "encoding": {
            "x": {"field": "x", "type": "quantitative", "scale": {"domain": [-0.57, 3.43], "nice": false, "zero": false}, "axis": null},
            "y": {"field": "y", "type": "quantitative", "scale": {"domain": [-1.56, 4.6], "reverse": true, "nice": false, "zero": false}, "axis": null},
            "text": {"field": "t"}
          }
        }
      ]
    }
  ]
}
